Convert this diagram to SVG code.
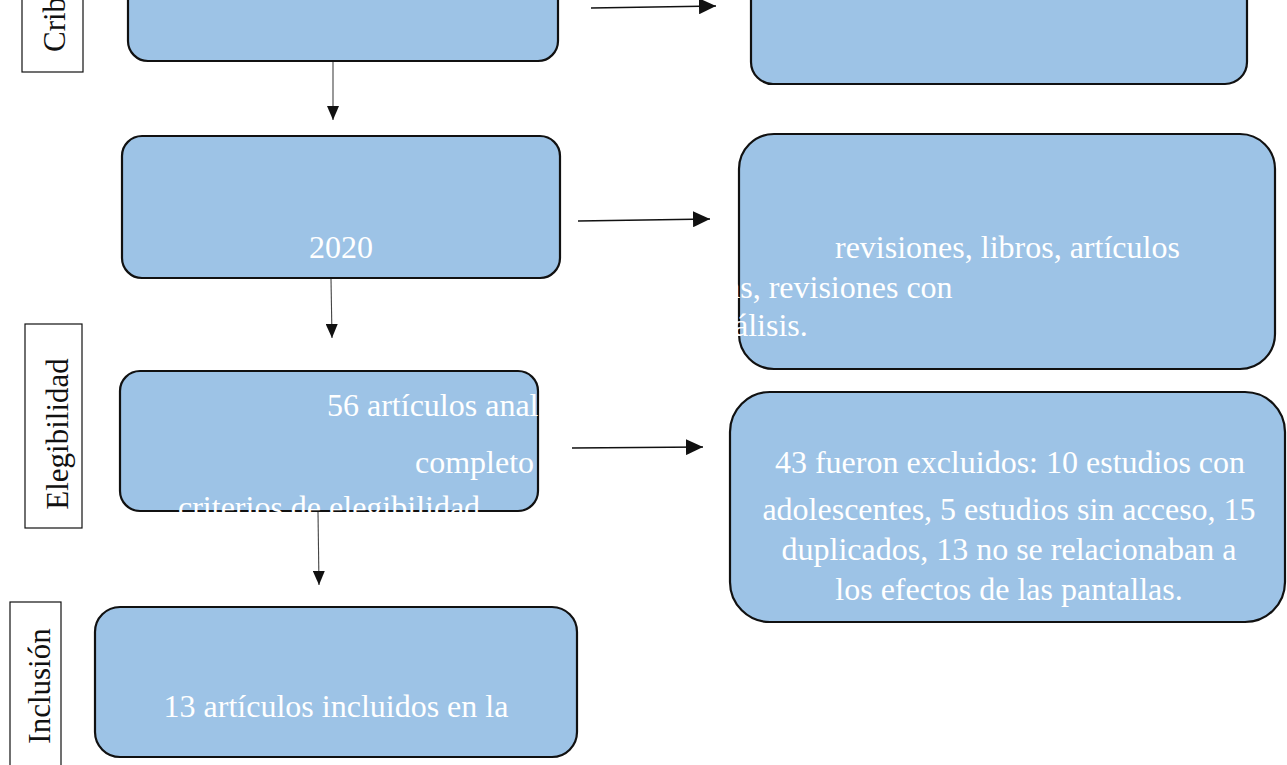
<svg xmlns="http://www.w3.org/2000/svg" width="1287" height="765" viewBox="0 0 1287 765">
<style>
.box{fill:#9DC3E6;stroke:#111;stroke-width:2.2}
.lbl{fill:#fff;stroke:#111;stroke-width:1.2}
.t{font-family:"Liberation Serif","Times New Roman",serif;font-size:32px;fill:#fff}
.lt{font-family:"Liberation Serif","Times New Roman",serif;font-size:31px;fill:#111}
.hc{fill:none;stroke:#111;stroke-width:1.4}
.vc{fill:none;stroke:#444;stroke-width:1.1}
</style>
<defs>
<marker id="ah" markerUnits="userSpaceOnUse" markerWidth="18" markerHeight="16" refX="17" refY="8" orient="auto">
<path d="M0,0 L17,8 L0,16 Z" fill="#111"/>
</marker>
<marker id="av" markerUnits="userSpaceOnUse" markerWidth="14" markerHeight="12" refX="14" refY="6" orient="auto">
<path d="M0,0 L14,6 L0,12 Z" fill="#111"/>
</marker>
</defs>
<g id="label-cribado">
<rect class="lbl" x="22" y="-10" width="61" height="82"/>
<text class="lt" transform="translate(65,52) rotate(-90)">Crib</text>
</g>
<g id="label-elegibilidad">
<rect class="lbl" x="25" y="324" width="57" height="204"/>
<text class="lt" text-anchor="middle" transform="translate(68,434) rotate(-90)">Elegibilidad</text>
</g>
<g id="label-inclusion">
<rect class="lbl" x="10" y="602" width="51" height="180"/>
<text class="lt" text-anchor="middle" transform="translate(50,686) rotate(-90)">Inclusión</text>
</g>
<g id="node-identificacion">
<rect class="box" x="128" y="-40" width="430" height="101" rx="20"/>
</g>
<g id="node-excluidos-1">
<rect class="box" x="751" y="-40" width="496" height="124" rx="22"/>
</g>
<g id="node-cribado">
<rect class="box" x="122" y="136" width="438" height="142" rx="20"/>
<text class="t" x="341" y="258" text-anchor="middle">2020</text>
</g>
<g id="node-excluidos-2">
<rect class="box" x="739" y="134" width="536" height="235" rx="35"/>
<text class="t" x="835" y="258">revisiones, libros, artículos</text>
<text class="t" x="726" y="298">as, revisiones con</text>
<text class="t" x="734" y="336">álisis.</text>
</g>
<g id="node-elegibilidad">
<rect class="box" x="120" y="371" width="418" height="140" rx="20"/>
<text class="t" x="327" y="416">56 artículos anal</text>
<text class="t" x="415" y="473">completo</text>
<text class="t" x="178" y="518">criterios de elegibilidad</text>
</g>
<g id="node-excluidos-3">
<rect class="box" x="730" y="392" width="555" height="230" rx="40"/>
<text class="t" x="1010" y="473" text-anchor="middle">43 fueron excluidos: 10 estudios con</text>
<text class="t" x="1009" y="520" text-anchor="middle">adolescentes, 5 estudios sin acceso, 15</text>
<text class="t" x="1009" y="560" text-anchor="middle">duplicados, 13 no se relacionaban a</text>
<text class="t" x="1009" y="600" text-anchor="middle">los efectos de las pantallas.</text>
</g>
<g id="node-inclusion">
<rect class="box" x="95" y="607" width="482" height="150" rx="25"/>
<text class="t" x="336" y="717" text-anchor="middle">13 artículos incluidos en la</text>
</g>
<g id="connectors">
<path class="hc" d="M591,8 L716,6" marker-end="url(#ah)"/>
<path class="hc" d="M578,221 L710,219" marker-end="url(#ah)"/>
<path class="hc" d="M572,448 L703,447" marker-end="url(#ah)"/>
<path class="vc" d="M333,62 L333,120" marker-end="url(#av)"/>
<path class="vc" d="M331,279 L332,338" marker-end="url(#av)"/>
<path class="vc" d="M318,512 L319,585" marker-end="url(#av)"/>
</g>
</svg>
